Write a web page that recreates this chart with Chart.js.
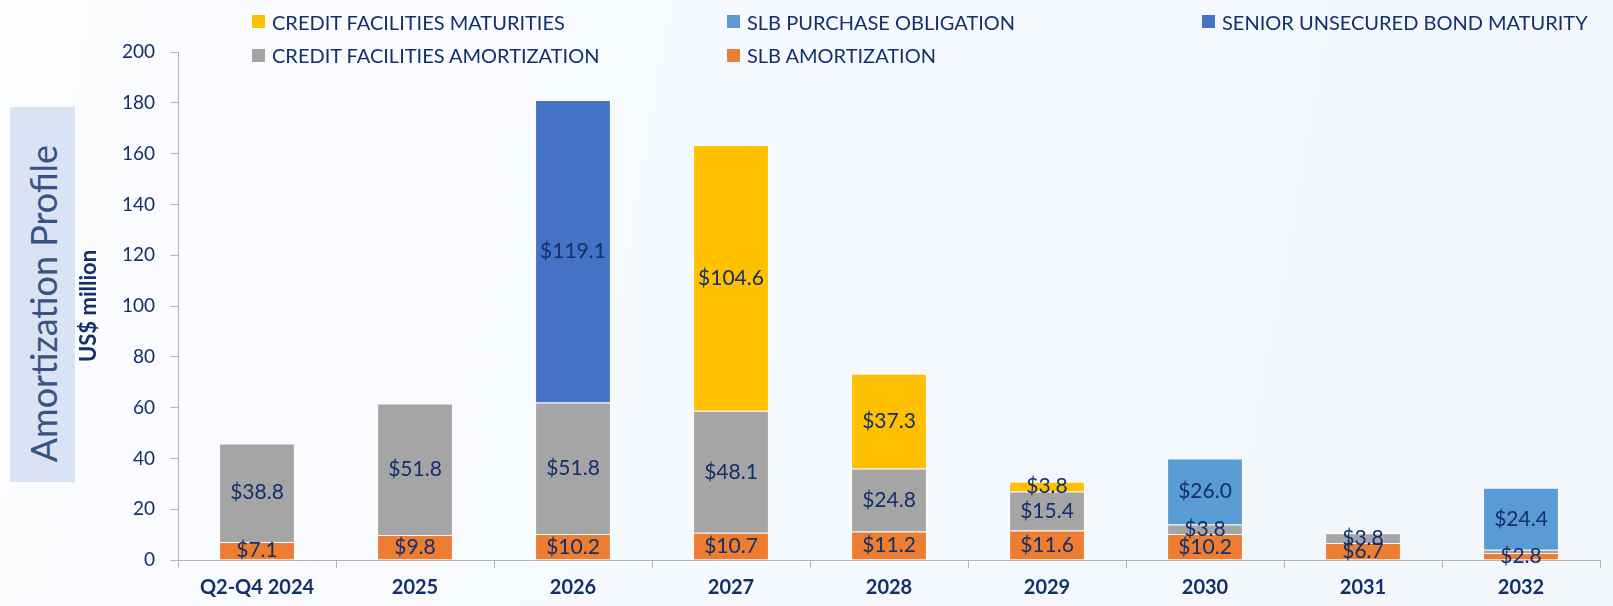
<!DOCTYPE html>
<html>
<head>
<meta charset="utf-8">
<script src="https://cdn.jsdelivr.net/npm/chart.js@4.4.1/dist/chart.umd.min.js"></script>
<style>
  html, body { margin: 0; padding: 0; }
  body {
    width: 1613px; height: 606px; position: relative; overflow: hidden;
    background: linear-gradient(100deg, #fbfcfe 0%, #f6f9fd 45%, #f2f6fb 100%);
    font-family: Lato, "Open Sans", sans-serif;
  }
  #chart { position: absolute; left: 0; top: 0; }
  #titlebox {
    position: absolute; left: 10px; top: 107px; width: 65px; height: 375px;
    background: #dae3f3; display: flex; align-items: center; justify-content: center;
  }
  #titlebox span {
    writing-mode: vertical-rl; transform: translateY(9px) rotate(180deg);
    font-family: Lato, sans-serif; font-weight: 400; font-size: 36px; color: #3a5283;
    white-space: nowrap;
  }
  .leg { position: absolute; display: flex; align-items: center; white-space: nowrap;
    font-family: Lato, sans-serif; font-size: 20px; color: #13306b; }
  .leg i { display: inline-block; width: 13px; height: 13px; margin-right: 7px; }
</style>
</head>
<body>
<canvas id="chart" width="1613" height="606"></canvas>
<div id="titlebox"><span>Amortization Profile</span></div>
<div id="legend"></div>
<script>
// ---- data ----
const categories = ['Q2-Q4 2024', '2025', '2026', '2027', '2028', '2029', '2030', '2031', '2032'];
const slbAmortization        = [7.1, 9.8, 10.2, 10.7, 11.2, 11.6, 10.2, 6.7, 2.8];
const creditFacAmortization  = [38.8, 51.8, 51.8, 48.1, 24.8, 15.4, 3.8, 3.8, 1.2];
const slbPurchaseObligation  = [null, null, null, null, null, null, 26.0, null, 24.4];
const creditFacMaturities    = [null, null, null, 104.6, 37.3, 3.8, null, null, null];
const seniorBondMaturity     = [null, null, 119.1, null, null, null, null, null, null];
const yTicks = { min: 0, max: 200, step: 20 };
const yTitle = 'US$ million';

const seriesNames = {
  slbAm: 'SLB AMORTIZATION',
  cfAm: 'CREDIT FACILITIES AMORTIZATION',
  slbPo: 'SLB PURCHASE OBLIGATION',
  cfMat: 'CREDIT FACILITIES MATURITIES',
  bond: 'SENIOR UNSECURED BOND MATURITY'
};
const colors = {
  slbAm: '#ED7D31', cfAm: '#A5A5A5', slbPo: '#5B9BD5', cfMat: '#FFC000', bond: '#4472C4'
};
const navy = '#13306b';

// ---- legend (HTML) ----
const legendLayout = [
  ['cfMat', 252, 21.5], ['slbPo', 727, 21.5], ['bond', 1202, 21.5],
  ['cfAm', 252, 55], ['slbAm', 727, 55]
];
const legendEl = document.getElementById('legend');
legendLayout.forEach(([k, x, y]) => {
  const d = document.createElement('div');
  d.className = 'leg';
  d.style.left = x + 'px';
  d.style.top = (y - 12) + 'px';
  d.style.height = '24px';
  d.innerHTML = '<i style="background:' + colors[k] + '"></i>' + seriesNames[k];
  legendEl.appendChild(d);
});

// ---- data labels plugin ----
const labelPlugin = {
  id: 'segLabels',
  afterDatasetsDraw(chart) {
    const ctx = chart.ctx;
    ctx.save();
    ctx.font = '21px Lato, sans-serif';
    ctx.fillStyle = navy;
    ctx.textAlign = 'center';
    ctx.textBaseline = 'middle';
    chart.data.datasets.forEach((ds, di) => {
      const meta = chart.getDatasetMeta(di);
      meta.data.forEach((bar, i) => {
        const v = ds.data[i];
        if (v == null || v < 2) return;
        const p = bar.getProps(['x', 'y', 'base'], true);
        ctx.fillText('$' + v.toFixed(1), p.x, (p.y + p.base) / 2);
      });
    });
    ctx.restore();
  }
};

function ds(key, data) {
  return {
    label: seriesNames[key], data: data, backgroundColor: colors[key],
    borderColor: 'rgba(255,255,255,0.55)', borderWidth: 1, borderSkipped: 'bottom',
    stack: 's', barPercentage: 0.48, categoryPercentage: 1.0
  };
}

new Chart(document.getElementById('chart'), {
  type: 'bar',
  data: {
    labels: categories,
    datasets: [
      ds('slbAm', slbAmortization),
      ds('cfAm', creditFacAmortization),
      ds('slbPo', slbPurchaseObligation),
      ds('cfMat', creditFacMaturities),
      ds('bond', seniorBondMaturity)
    ]
  },
  options: {
    responsive: false,
    animation: false,
    layout: { padding: { top: 52, right: 13, left: 0, bottom: 0 } },
    plugins: { legend: { display: false }, tooltip: { enabled: false } },
    scales: {
      x: {
        stacked: true,
        afterFit(s) { s.height = 46; },
        grid: { offset: true, drawOnChartArea: false, drawTicks: true, tickLength: 8, color: '#b4b4b4' },
        border: { display: true, color: '#b4b4b4' },
        ticks: { color: navy, font: { family: 'Lato', size: 20, weight: 'bold' }, padding: 8, maxRotation: 0 }
      },
      y: {
        stacked: true,
        min: yTicks.min, max: yTicks.max,
        afterFit(s) { s.width = 178; },
        grid: { drawOnChartArea: false, drawTicks: true, tickLength: 8, color: '#b4b4b4' },
        border: { display: true, color: '#b4b4b4' },
        ticks: { stepSize: yTicks.step, color: navy, font: { family: 'Lato', size: 19 }, padding: 15 },
        title: { display: true, text: yTitle, color: navy, font: { family: 'Lato', size: 22, weight: 'bold' }, padding: { top: 76, bottom: 0 } }
      }
    }
  },
  plugins: [labelPlugin]
});
</script>
</body>
</html>
